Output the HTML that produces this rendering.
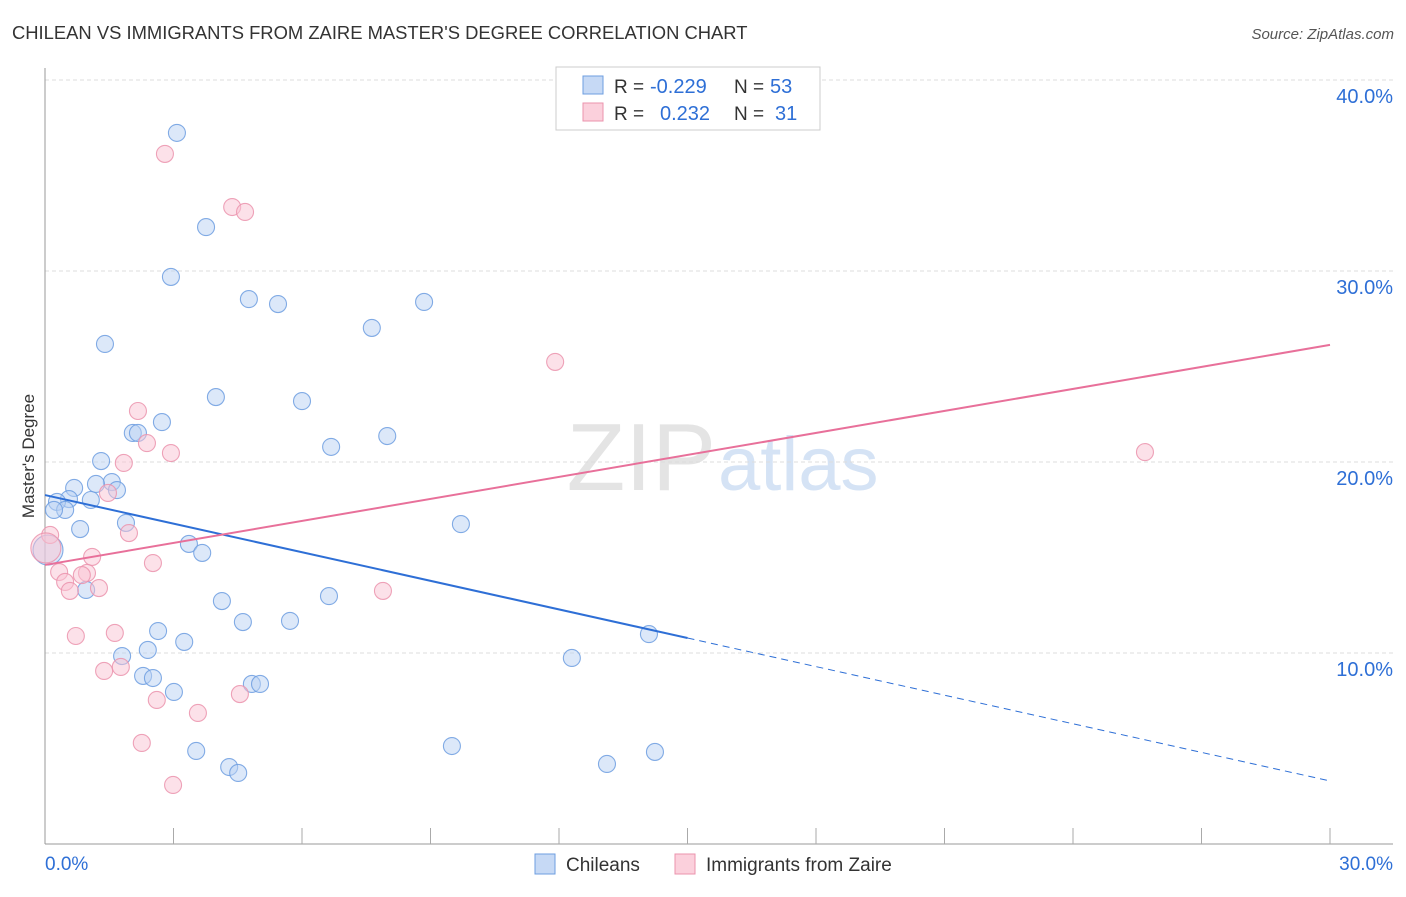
<!DOCTYPE html>
<html><head><meta charset="utf-8"><style>
body{margin:0;background:#fff;font-family:"Liberation Sans",sans-serif;}
svg text{font-family:"Liberation Sans",sans-serif;}
</style></head><body>
<svg id="chart" width="1406" height="892" xmlns="http://www.w3.org/2000/svg">
<text x="12" y="39" font-size="18.4" fill="#333">CHILEAN VS IMMIGRANTS FROM ZAIRE MASTER'S DEGREE CORRELATION CHART</text>
<text x="1394" y="39" font-size="15" fill="#555" font-style="italic" text-anchor="end">Source: ZipAtlas.com</text>
<text x="716" y="490" font-size="96" fill="#e4e4e4" text-anchor="end" font-family="Liberation Serif">ZIP</text>
<text x="718" y="490" font-size="76" fill="#d5e3f5">atlas</text>
<g id="grid"></g>
<g id="axes"></g>
<g id="pts"></g>
<g id="lines"></g>
<text transform="translate(34,456) rotate(-90)" font-size="17" fill="#333" text-anchor="middle">Master's Degree</text>
<g>
<rect x="556" y="67" width="264" height="63" fill="#fff" stroke="#ccc"/>
<rect x="583" y="76" width="20" height="18" fill="#c6d9f5" stroke="#6d9ee0"/>
<rect x="583" y="103" width="20" height="18" fill="#fbd0dc" stroke="#eb93ad"/>
<text x="614" y="93" font-size="19" fill="#333">R =</text>
<text x="650" y="93" font-size="20" fill="#2e6fd6">-0.229</text>
<text x="734" y="93" font-size="19" fill="#333">N =</text>
<text x="770" y="93" font-size="20" fill="#2e6fd6">53</text>
<text x="614" y="120" font-size="19" fill="#333">R =</text>
<text x="660" y="120" font-size="20" fill="#2e6fd6">0.232</text>
<text x="734" y="120" font-size="19" fill="#333">N =</text>
<text x="775" y="120" font-size="20" fill="#2e6fd6">31</text>
</g>
<g>
<rect x="535" y="854" width="20" height="20" fill="#c6d9f5" stroke="#6d9ee0"/>
<text x="566" y="871" font-size="19" fill="#333">Chileans</text>
<rect x="675" y="854" width="20" height="20" fill="#fbd0dc" stroke="#eb93ad"/>
<text x="706" y="871" font-size="19" fill="#333">Immigrants from Zaire</text>
</g>
</svg>
<script>
const yTicks=[10,20,30,40];
const yTickLabels=["10.0%","20.0%","30.0%","40.0%"];
const xTickCount=10;
const blueX=[3.08,3.76,2.94,4.76,5.44,8.85,7.63,1.40,3.99,6.00,2.73,2.05,2.17,6.68,7.99,1.31,1.56,1.19,0.68,1.68,0.56,0.28,1.07,0.47,0.21,1.89,9.71,0.82,3.36,3.67,0.07,0.96,4.13,6.63,4.62,5.72,2.64,3.25,14.10,2.40,1.80,12.30,2.29,2.52,3.01,4.83,5.02,3.53,9.50,4.30,4.51,13.12,14.24];
const blueY=[37.23,32.30,29.69,28.53,28.27,28.38,27.02,26.18,23.40,23.19,22.09,21.52,21.52,20.79,21.36,20.05,18.95,18.85,18.64,18.53,18.06,17.91,18.01,17.49,17.49,16.81,16.75,16.49,15.71,15.24,15.39,13.30,12.72,12.98,11.62,11.68,11.15,10.58,10.99,10.16,9.84,9.74,8.80,8.69,7.96,8.38,8.38,4.87,5.13,4.03,3.72,4.19,4.82];
const pinkX=[2.80,4.37,4.67,11.91,2.17,2.38,2.94,1.84,1.47,25.68,1.96,0.12,0.02,1.10,2.52,0.98,0.33,0.86,0.47,1.26,0.58,7.89,0.72,1.63,1.38,1.77,2.61,4.55,3.57,2.26,2.99];
const pinkY=[36.13,33.35,33.09,25.24,22.67,20.99,20.47,19.95,18.38,20.52,16.28,16.18,15.50,15.03,14.71,14.19,14.24,14.08,13.72,13.40,13.25,13.25,10.89,11.05,9.06,9.27,7.54,7.85,6.86,5.29,3.09];
const blueTrend=[18.27,3.30];
const pinkTrend=[14.61,26.13];
const NS="http://www.w3.org/2000/svg";
const sx=v=>45+v*(1285/30), sy=v=>844-v*19.1;
function mk(p,t,a){const e=document.createElementNS(NS,t);for(const k in a)e.setAttribute(k,a[k]);p.appendChild(e);return e;}
const grid=document.getElementById('grid'),axes=document.getElementById('axes'),pts=document.getElementById('pts'),lines=document.getElementById('lines');
yTicks.forEach((t,i)=>{
 const l=mk(grid,'line',{x1:45,x2:1393,y1:sy(t),y2:sy(t),stroke:'#ddd','stroke-dasharray':'4,3'});
 
 
 const tx=mk(axes,'text',{x:1393,y:sy(t)+23,'font-size':20,fill:'#2e6fd6','text-anchor':'end'});tx.textContent=yTickLabels[i];
 
 
});
const ya=mk(axes,'line',{x1:45,x2:45,y1:68,y2:844,stroke:'#999'});


const xa=mk(axes,'line',{x1:45,x2:1393,y1:844,y2:844,stroke:'#999'});


for(let i=1;i<=xTickCount;i++){const v=i*3;const t=mk(axes,'line',{x1:sx(v),x2:sx(v),y1:828,y2:844,stroke:'#aaa'});
 
 }
const x0=mk(axes,'text',{x:45,y:870,'font-size':19,fill:'#2e6fd6'});x0.textContent='0.0%';


const x1=mk(axes,'text',{x:1393,y:870,'font-size':19,fill:'#2e6fd6','text-anchor':'end'});x1.textContent='30.0%';


function dots(X,Y,fill,stroke,name,bigIdx){X.forEach((x,i)=>{const c=mk(pts,'circle',{cx:sx(x),cy:sy(Y[i]),r:i===bigIdx?15:8.5,fill:fill,'fill-opacity':0.5,stroke:stroke,'stroke-width':1.1,'stroke-opacity':0.85});
 
 });}
dots(blueX,blueY,'#b9d1f3','#6d9ee0','chilean-point',30);
dots(pinkX,pinkY,'#f9c3d3','#eb93ad','zaire-point',12);
const bm=15, bmY=blueTrend[0]+(blueTrend[1]-blueTrend[0])*bm/30;
const b1=mk(lines,'line',{x1:sx(0),y1:sy(blueTrend[0]),x2:sx(bm),y2:sy(bmY),stroke:'#2e6fd6','stroke-width':2});


const b2=mk(lines,'line',{x1:sx(bm),y1:sy(bmY),x2:sx(30),y2:sy(blueTrend[1]),stroke:'#2e6fd6','stroke-width':1,'stroke-dasharray':'7,5'});


const p1=mk(lines,'line',{x1:sx(0),y1:sy(pinkTrend[0]),x2:sx(30),y2:sy(pinkTrend[1]),stroke:'#e8709a','stroke-width':2});


</script>
</body></html>
